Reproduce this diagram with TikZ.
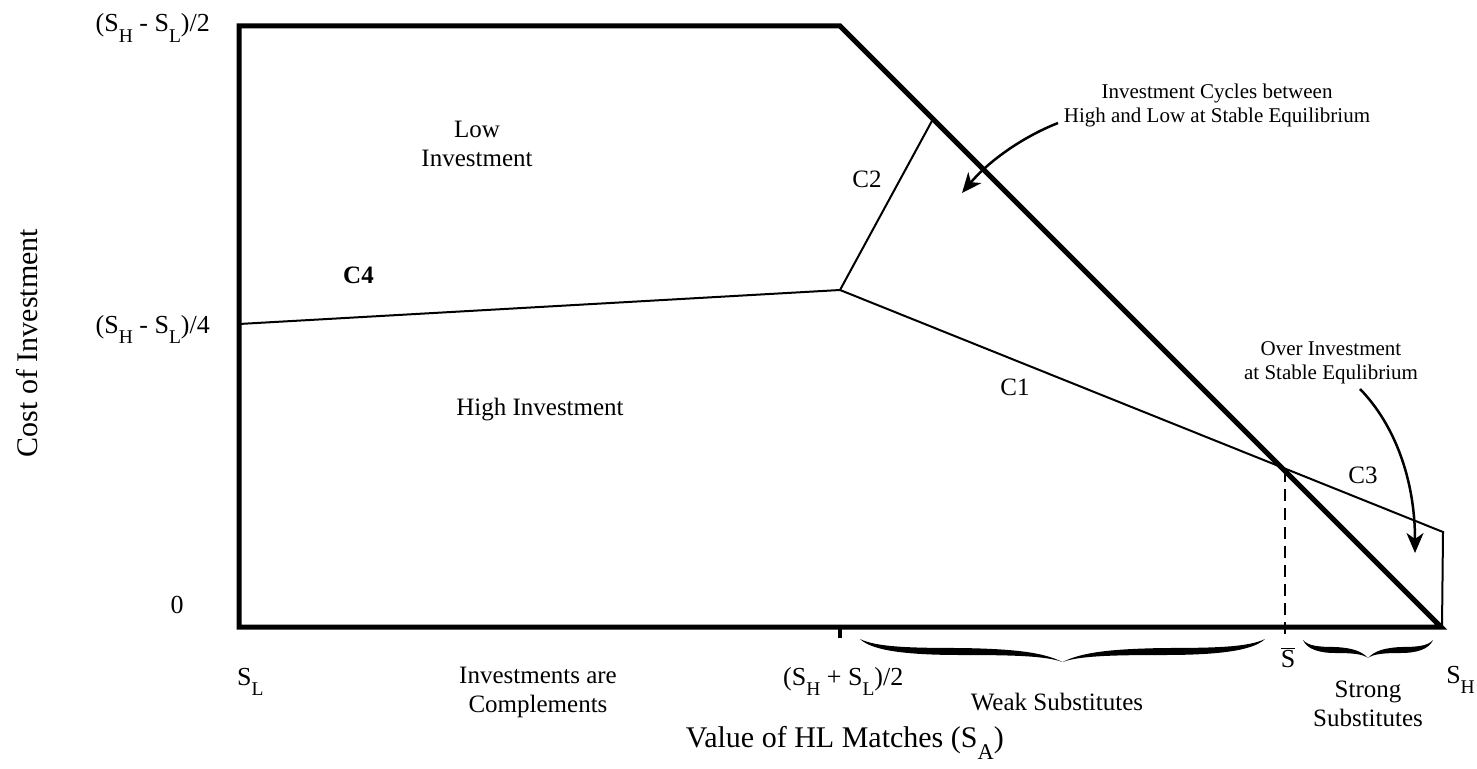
\documentclass[tikz,border=0pt]{standalone}
\usepackage{fontspec}
\setmainfont{Liberation Serif}
\usepackage{graphicx}
\usetikzlibrary{arrows.meta}
\newcommand\lo[1]{\raisebox{-0.42em}{\scalebox{0.75}{#1}}}
\newcommand\two[2]{\begin{tabular}[t]{@{}c@{}}#1\\#2\end{tabular}}
% calligraphic brace: #1 left x, #2 width, #3 top y, #4 tip depth, #5 band bottom, #6 band top
\newcommand\cbrace[6]{%
\begin{scope}[shift={(#1,#3)}, xscale=#2]
\fill (0,0) .. controls (0.03,#5-4) and (0.12,#5) .. (0.25,#5)
  .. controls (0.38,#5) and (0.46,#5+1) .. (0.5,#4)
  .. controls (0.54,#5+1) and (0.62,#5) .. (0.75,#5)
  .. controls (0.88,#5) and (0.97,#5-4) .. (1,0)
  .. controls (0.96,#6-1) and (0.88,#6) .. (0.75,#6)
  .. controls (0.62,#6+1) and (0.55,#6+4) .. (0.5,#4)
  .. controls (0.45,#6+4) and (0.38,#6+1) .. (0.25,#6)
  .. controls (0.12,#6) and (0.04,#6-1) .. (0,0) -- cycle;
\end{scope}}
\begin{document}
\begin{tikzpicture}[x=1pt,y=-1pt,
  frame/.style={line width=5pt, line join=miter},
  thinline/.style={line width=2pt},
  lbl/.style={font=\fontsize{25}{29}\selectfont, inner sep=0pt},
  ticklbl/.style={font=\fontsize{26}{30}\selectfont, inner sep=0pt},
  note/.style={font=\fontsize{21}{24.5}\selectfont, inner sep=0pt},
  axislbl/.style={font=\fontsize{30}{34}\selectfont, inner sep=0pt},
  arr/.style={line width=2.5pt, -{Stealth[length=20pt,width=17pt,inset=6pt]}},
]
\useasboundingbox (0,0) rectangle (1477,768);
\fill[white] (0,0) rectangle (1477,768);

% key points
\coordinate (O) at (239,627);
\coordinate (TL) at (239,26);
\coordinate (TK) at (840,26);
\coordinate (SH) at (1441,627);
\coordinate (K) at (840,290);
\coordinate (C4L) at (239,324);
\coordinate (C2T) at (933,119);
\coordinate (X) at (1285,470);
\coordinate (C3E) at (1443,532);
\coordinate (C3B) at (1442,627);
\coordinate (Xb) at (1285,641);
\coordinate (Kt) at (840,638);

% frame
\draw[frame] (SH) -- (O) -- (TL) -- (TK) -- cycle;
% boundaries
\draw[thinline] (C4L) -- (K) -- (C2T);
\draw[thinline] (K) -- (C3E) -- (C3B);
\draw[thinline, dash pattern=on 12pt off 7pt] (X) -- (Xb);
\draw[line width=4pt] (K |- O) -- (Kt);

% braces
\cbrace{860}{405}{639}{23}{16}{9}
\cbrace{1303}{130}{640}{18}{13}{7}

% axis tick labels
\node[ticklbl, anchor=base east] (yhalf) at (210,32) {(S\lo{H} - S\lo{L})/2};
\node[ticklbl, anchor=base east] (yquart) at (210,333) {(S\lo{H} - S\lo{L})/4};
\node[ticklbl, anchor=base] (yzero) at (177,613) {0};
\node[ticklbl, anchor=base west] (xsl) at (237,685) {S\lo{L}};
\node[ticklbl, anchor=base west] (xmid) at (783,685) {(S\lo{H} + S\lo{L})/2};
\node[ticklbl, anchor=base] (xbar) at (1288,667) {$\overline{\mbox{S}}$};
\node[ticklbl, anchor=base east] (xsh) at (1475,683) {S\lo{H}};

% axis titles
\node[axislbl, anchor=base east] (xtitle) at (1004,747) {Value of HL Matches (S\lo{A})};
\node[axislbl, anchor=base, rotate=90] (ytitle) at (37,343) {Cost of Investment};

% region labels
\node[lbl, anchor=base] (low) at (477,137) {\two{Low}{Investment}};
\node[lbl, anchor=base] (high) at (540,415) {High Investment};
\node[lbl, anchor=base west] (c4) at (343,283) {\bfseries C4};
\node[lbl, anchor=base] (c2) at (867,187) {C2};
\node[lbl, anchor=base] (c1) at (1015,395) {C1};
\node[lbl, anchor=base] (c3) at (1363,483) {C3};
\node[lbl, anchor=base] (compl) at (538,683) {\two{Investments are}{Complements}};
\node[lbl, anchor=base] (weak) at (1057,710) {Weak Substitutes};
\node[lbl, anchor=base] (strong) at (1368,697) {\two{Strong}{Substitutes}};

% annotations
\node[note, anchor=base] (cyc) at (1217,98) {\two{Investment Cycles between}{High and Low at Stable Equilibrium}};
\node[note, anchor=base] (over) at (1331,355) {\two{Over Investment}{at Stable Equlibrium}};

\coordinate (a1s) at (1058,123);
\coordinate (a1e) at (962,193);
\coordinate (a2s) at (1360,389);
\coordinate (a2e) at (1415,553);
\draw[arr] (a1s) .. controls (1020,138) and (987,163) .. (a1e);
\draw[arr] (a2s) .. controls (1395,425) and (1415,480) .. (a2e);
\end{tikzpicture}
\end{document}
